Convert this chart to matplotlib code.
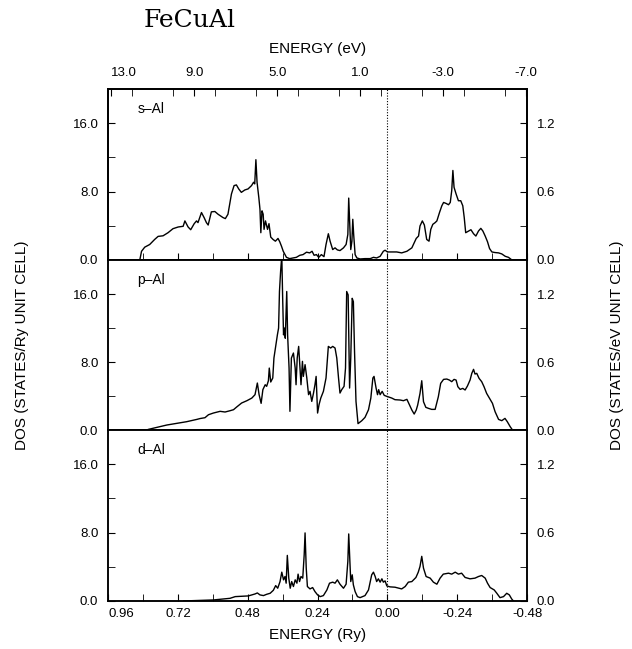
import matplotlib
matplotlib.use("Agg")
import matplotlib.pyplot as plt
from matplotlib.ticker import FixedLocator, MultipleLocator

plt.rcParams['font.family'] = ['Liberation Sans', 'DejaVu Sans']

# s-Al partial DOS (energy in Ry, DOS in states/Ry unit cell)
s_E = [0.851, 0.845, 0.834, 0.817, 0.800, 0.788, 0.771, 0.754, 0.737, 0.719,
       0.702, 0.696, 0.685, 0.676, 0.664, 0.656, 0.651, 0.639, 0.630, 0.622,
       0.616, 0.605, 0.593, 0.582, 0.565, 0.557, 0.548, 0.536, 0.527, 0.519,
       0.511, 0.502, 0.490, 0.479, 0.467, 0.460, 0.456, 0.452, 0.448, 0.442,
       0.438, 0.435, 0.431, 0.427, 0.424, 0.419, 0.412, 0.407, 0.401, 0.393,
       0.385, 0.376, 0.370, 0.364, 0.358, 0.347, 0.336, 0.324, 0.313, 0.301,
       0.290, 0.278, 0.267, 0.259, 0.252, 0.244, 0.236, 0.227, 0.218, 0.211,
       0.203, 0.197, 0.188, 0.180, 0.172, 0.163, 0.151, 0.142, 0.136, 0.133,
       0.129, 0.126, 0.122, 0.119, 0.116, 0.111, 0.105, 0.094, 0.077, 0.059,
       0.048, 0.037, 0.025, 0.014, 0.008, 0.000, -0.015, -0.032, -0.049, -0.067,
       -0.084, -0.099, -0.107, -0.112, -0.120, -0.127, -0.135, -0.143, -0.149, -0.156,
       -0.164, -0.170, -0.179, -0.187, -0.193, -0.202, -0.210, -0.216, -0.221, -0.225,
       -0.229, -0.236, -0.244, -0.252, -0.259, -0.264, -0.269, -0.279, -0.287, -0.296,
       -0.304, -0.313, -0.321, -0.328, -0.336, -0.344, -0.351, -0.359, -0.370, -0.382,
       -0.393, -0.405, -0.416, -0.428]
s_D = [0.0, 1.02, 1.50, 1.81, 2.40, 2.76, 2.83, 3.19, 3.66, 3.86,
       3.94, 4.57, 3.86, 3.54, 4.25, 4.57, 4.37, 5.55, 4.96, 4.37,
       4.09, 5.63, 5.67, 5.35, 4.96, 4.84, 5.35, 7.72, 8.70, 8.78,
       8.31, 7.91, 8.19, 8.31, 8.70, 9.09, 8.90, 11.73, 9.09, 7.32,
       5.94, 3.19, 5.75, 5.35, 3.58, 4.57, 3.58, 4.25, 2.68, 2.40,
       2.20, 2.52, 2.13, 1.61, 1.02, 0.31, 0.16, 0.24, 0.31, 0.55,
       0.63, 0.91, 0.83, 1.02, 0.55, 0.63, 0.31, 0.63, 0.39, 1.81,
       3.07, 2.20, 1.22, 1.42, 1.18, 1.10, 1.42, 1.81, 2.99, 7.24,
       3.78, 1.22, 2.20, 4.76, 2.99, 0.63, 0.24, 0.12, 0.16, 0.16,
       0.31, 0.24, 0.43, 1.02, 1.14, 0.94, 0.94, 0.94, 0.83, 1.02,
       1.42, 2.52, 2.80, 3.98, 4.57, 4.09, 2.40, 2.20, 3.58, 4.17,
       4.37, 4.57, 5.55, 6.34, 6.73, 6.61, 6.46, 6.73, 8.11, 10.47,
       8.50, 7.72, 6.93, 6.93, 6.34, 4.96, 3.19, 3.39, 3.54, 3.07,
       2.80, 3.39, 3.70, 3.39, 2.80, 2.13, 1.34, 0.94, 0.87, 0.83,
       0.71, 0.43, 0.31, 0.0]

# p-Al partial DOS
p_E = [0.821, 0.793, 0.758, 0.724, 0.690, 0.655, 0.644, 0.627, 0.615, 0.598,
       0.575, 0.558, 0.541, 0.529, 0.518, 0.501, 0.483, 0.466, 0.455, 0.447,
       0.441, 0.434, 0.428, 0.420, 0.415, 0.409, 0.406, 0.401, 0.394, 0.390,
       0.383, 0.378, 0.374, 0.371, 0.367, 0.363, 0.360, 0.357, 0.354, 0.351,
       0.346, 0.343, 0.338, 0.335, 0.330, 0.323, 0.317, 0.314, 0.310, 0.305,
       0.300, 0.297, 0.292, 0.289, 0.283, 0.277, 0.271, 0.266, 0.260, 0.254,
       0.249, 0.245, 0.240, 0.235, 0.229, 0.220, 0.211, 0.203, 0.195, 0.188,
       0.180, 0.174, 0.168, 0.163, 0.157, 0.149, 0.144, 0.140, 0.135, 0.130,
       0.126, 0.121, 0.117, 0.113, 0.108, 0.101, 0.088, 0.077, 0.065, 0.057,
       0.050, 0.046, 0.039, 0.034, 0.030, 0.025, 0.018, 0.011, 0.002, -0.015,
       -0.026, -0.044, -0.055, -0.067, -0.076, -0.084, -0.092, -0.099, -0.104, -0.112,
       -0.118, -0.124, -0.132, -0.141, -0.152, -0.164, -0.175, -0.183, -0.193, -0.204,
       -0.213, -0.221, -0.229, -0.236, -0.242, -0.250, -0.259, -0.267, -0.275, -0.284,
       -0.290, -0.296, -0.301, -0.307, -0.315, -0.324, -0.332, -0.341, -0.351, -0.361,
       -0.370, -0.382, -0.393, -0.404, -0.412, -0.422, -0.430]
p_D = [0.08, 0.31, 0.59, 0.78, 0.98, 1.25, 1.35, 1.45, 1.80, 2.00,
       2.20, 2.12, 2.27, 2.39, 2.71, 3.18, 3.45, 3.76, 4.16, 5.53,
       4.16, 3.14, 4.75, 5.33, 5.14, 5.80, 7.29, 5.65, 6.12, 8.47,
       10.12, 11.22, 12.0, 16.3, 18.7, 20.5, 15.5, 11.2, 12.0, 10.8,
       16.3, 11.2, 7.29, 2.20, 8.47, 9.06, 7.29, 5.33, 8.47, 9.84,
       6.90, 5.33, 8.08, 6.31, 7.69, 6.12, 4.16, 4.55, 3.37, 4.35,
       5.33, 6.31, 2.00, 2.98, 3.76, 4.55, 6.12, 9.84, 9.65, 9.84,
       9.65, 8.47, 6.12, 4.35, 4.75, 5.14, 7.29, 16.3, 15.9, 4.94,
       8.47, 15.5, 15.1, 9.25, 3.37, 0.75, 1.10, 1.49, 2.39, 3.76,
       6.12, 6.31, 4.94, 4.16, 4.75, 4.16, 4.55, 4.08, 3.96, 3.76,
       3.57, 3.53, 3.45, 3.61, 2.94, 2.35, 1.88, 2.35, 2.94, 4.31,
       5.80, 3.33, 2.67, 2.55, 2.43, 2.43, 3.92, 5.49, 5.96, 6.00,
       5.88, 5.69, 5.96, 5.88, 5.10, 4.78, 4.90, 4.71, 5.18, 5.88,
       6.67, 7.14, 6.59, 6.67, 6.08, 5.69, 5.10, 4.31, 3.73, 3.14,
       2.16, 1.25, 1.10, 1.37, 0.98, 0.39, 0.0]

# d-Al partial DOS
d_E = [0.700, 0.667, 0.598, 0.541, 0.523, 0.478, 0.466, 0.455, 0.447, 0.438,
       0.426, 0.415, 0.403, 0.392, 0.384, 0.377, 0.369, 0.363, 0.357, 0.352,
       0.348, 0.344, 0.339, 0.334, 0.329, 0.323, 0.317, 0.311, 0.307, 0.302,
       0.297, 0.291, 0.286, 0.283, 0.279, 0.275, 0.266, 0.257, 0.249, 0.240,
       0.231, 0.220, 0.208, 0.199, 0.188, 0.180, 0.172, 0.163, 0.151, 0.142,
       0.136, 0.133, 0.129, 0.126, 0.121, 0.117, 0.111, 0.103, 0.094, 0.077,
       0.065, 0.054, 0.048, 0.042, 0.037, 0.031, 0.025, 0.019, 0.014, 0.008,
       0.002, -0.009, -0.026, -0.049, -0.061, -0.072, -0.084, -0.098, -0.106, -0.112,
       -0.118, -0.124, -0.133, -0.147, -0.158, -0.170, -0.181, -0.192, -0.210, -0.221,
       -0.233, -0.244, -0.255, -0.267, -0.284, -0.301, -0.313, -0.324, -0.336, -0.344,
       -0.353, -0.367, -0.376, -0.387, -0.399, -0.410, -0.419, -0.427, -0.433]
d_D = [0.0, 0.04, 0.12, 0.31, 0.51, 0.59, 0.71, 0.82, 0.94, 0.71,
       0.63, 0.78, 0.90, 1.25, 1.80, 1.49, 2.27, 3.37, 2.47, 2.86,
       2.08, 5.33, 2.67, 1.49, 2.27, 1.69, 2.47, 2.08, 3.14, 2.27,
       2.86, 2.67, 5.41, 7.96, 3.84, 1.69, 1.41, 1.57, 1.10, 0.71,
       0.51, 0.63, 1.29, 2.08, 2.20, 2.08, 2.47, 1.96, 1.49, 1.96,
       4.63, 7.84, 4.63, 2.27, 3.06, 1.88, 1.10, 0.51, 0.39, 0.63,
       1.29, 3.06, 3.37, 2.86, 2.27, 2.59, 2.20, 2.59, 2.20, 2.35,
       1.76, 1.65, 1.61, 1.41, 1.69, 2.20, 2.27, 2.75, 3.37, 4.04,
       5.22, 3.84, 2.86, 2.67, 2.20, 1.96, 2.67, 3.14, 3.25, 3.14,
       3.37, 3.14, 3.25, 2.75, 2.59, 2.67, 2.86, 2.98, 2.67, 2.08,
       1.57, 1.29, 0.90, 0.39, 0.51, 0.90, 0.71, 0.24, 0.0]

names = ["s\u2013Al", "p\u2013Al", "d\u2013Al"]

ry_ticks = [0.96, 0.72, 0.48, 0.24, 0.00, -0.24, -0.48]
ry_labels = ["0.96", "0.72", "0.48", "0.24", "0.00", "-0.24", "-0.48"]
ev_ticks = [13.0, 9.0, 5.0, 1.0, -3.0, -7.0]
ev_labels = ["13.0", "9.0", "5.0", "1.0", "-3.0", "-7.0"]
left_ticks = [0, 8, 16]
right_ticks = [0.0, 0.6, 1.2]

fig = plt.figure(figsize=(6.32, 6.49), dpi=100)

left, width = 0.171, 0.663
boxes = [(0.5994, 0.2635), (0.3374, 0.2619), (0.0740, 0.2635)]
series = [(s_E, s_D), (p_E, p_D), (d_E, d_D)]
ry_to_ev = 13.33
fs = 9.5

for i in range(3):
    b, h = boxes[i]
    E, D = series[i]
    ax = fig.add_axes([left, b, width, h])
    ax.plot(E, D, color='black', lw=1.0)
    ax.axvline(0.0, color='black', ls=(0, (1, 1.5)), lw=0.8)
    ax.set_xlim(0.96, -0.48)
    ax.set_ylim(0, 20)
    ax.yaxis.set_major_locator(FixedLocator(left_ticks))
    ax.yaxis.set_minor_locator(FixedLocator([4, 12]))
    ax.yaxis.set_major_formatter('{x:.1f}')
    ax.tick_params(axis='y', which='both', direction='in', length=5,
                   labelsize=fs, pad=7)
    ax.set_xticks(ry_ticks, ry_labels)
    ax.xaxis.set_minor_locator(MultipleLocator(0.12))
    ax.tick_params(axis='x', which='both', direction='in', length=5,
                   labelsize=fs, pad=5)
    # first label sits inside the corner, as in the original
    ax.get_xticklabels()[0].set_ha('left')
    if i < 2:
        ax.tick_params(axis='x', which='both', bottom=False, labelbottom=False)
    ax.text(0.07, 0.86, names[i], transform=ax.transAxes, fontsize=10)
    for sp in ax.spines.values():
        sp.set_linewidth(1.1)

    axr = ax.twinx()
    axr.set_ylim(0, 20 / ry_to_ev)
    axr.yaxis.set_major_locator(FixedLocator(right_ticks))
    axr.yaxis.set_minor_locator(FixedLocator([0.3, 0.9]))
    axr.yaxis.set_major_formatter('{x:.1f}')
    axr.tick_params(axis='y', which='both', direction='in', length=5,
                    labelsize=fs, pad=7)
    for sp in axr.spines.values():
        sp.set_linewidth(1.1)

    if i == 0:
        axt = ax.twiny()
        axt.set_xlim(13.15, -7.05)
        axt.set_xticks(ev_ticks, ev_labels)
        axt.xaxis.set_minor_locator(MultipleLocator(2.0))
        axt.tick_params(axis='x', which='both', direction='in', length=5,
                        labelsize=fs, pad=7)
        axt.get_xticklabels()[0].set_ha('left')
        for sp in axt.spines.values():
            sp.set_linewidth(1.1)

fig.text(0.30, 0.969, "FeCuAl", family='DejaVu Serif', fontsize=18,
         ha='center', va='center')
fig.text(0.5024, 0.9245, "ENERGY (eV)", fontsize=11, ha='center', va='center')
fig.text(0.5024, 0.0216, "ENERGY (Ry)", fontsize=11, ha='center', va='center')
fig.text(0.035, 0.468, "DOS (STATES/Ry UNIT CELL)", fontsize=11,
         rotation=90, ha='center', va='center')
fig.text(0.976, 0.468, "DOS (STATES/eV UNIT CELL)", fontsize=11,
         rotation=90, ha='center', va='center')

fig.savefig("out.png", dpi=100)
